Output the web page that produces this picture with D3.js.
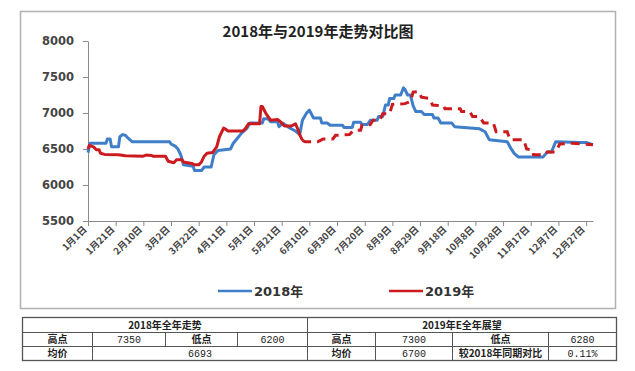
<!DOCTYPE html>
<html><head><meta charset="utf-8">
<script src="https://cdn.jsdelivr.net/npm/d3@7/dist/d3.min.js"></script>
<style>
html,body{margin:0;padding:0;background:#fff;}
svg{display:block;}
</style></head>
<body>
<svg id="c" width="635" height="371"></svg>
<script>
// ---- data ----
const title = "2018年与2019年走势对比图";
const yTicks = [5500, 6000, 6500, 7000, 7500, 8000];
const xTickDays = [0,20,40,60,80,100,120,140,160,180,200,220,240,260,280,300,320,340,360];
const xTickLabels = ["1月1日","1月21日","2月10日","3月2日","3月22日","4月11日","5月1日","5月21日","6月10日","6月30日","7月20日","8月9日","8月29日","9月18日","10月8日","10月28日","11月17日","12月7日","12月27日"];
const seriesNames = ["2018年", "2019年"];
// 2018 (blue) — day of year, price
const days2018 = [0,1.4,13,14,16,17,22,23,25,27,29,32,59,60,63,65,67,69,76,77,82,84,89,91,94,103,105,108,111,115,117,126,127,130,132,137,138,141,145,150,153,155,158,160,163,168,169,173,175,184,185,191,192,197,198,202,204,209,210,213,215,217,218,221,222,226,228,229,231,233,235,237,241,243,249,250,253,255,263,265,283,287,290,303,305,308,311,329,332,335,338,356,360,365];
const vals2018 = [6450,6580,6580,6640,6640,6530,6530,6670,6700,6690,6650,6600,6600,6570,6540,6500,6420,6280,6260,6200,6200,6250,6250,6420,6480,6500,6580,6650,6720,6790,6860,6860,6920,6920,6880,6880,6810,6860,6800,6750,6700,6900,7000,7040,6930,6930,6860,6860,6830,6830,6800,6800,6870,6870,6840,6840,6900,6900,6950,6950,7110,7110,7200,7200,7250,7250,7350,7330,7250,7250,7100,7020,7020,6980,6980,6930,6930,6860,6860,6810,6780,6740,6630,6600,6530,6440,6390,6390,6460,6460,6600,6590,6590,6560];
// 2019 (red) — actual until day 155, forecast (dashed) afterwards
const days2019 = [0,1,4,6,8,9,12,22,27,40,42,46,47,56,58,62,64,68,69,75,77,80,82,84,86,90,93,95,98,100,101,112,114,116,124,125,126,129,132,137,139,142,147,150,152,153,155,157,166,168,170,177,179,189,192,197,198,204,206,211,213,218,220,229,233,235,239,241,247,249,257,258,269,270,276,278,283,286,293,295,303,305,315,317,321,322,330,332,338,341,350,365];
const vals2019 = [6500,6550,6530,6490,6490,6440,6425,6420,6405,6400,6415,6410,6400,6400,6330,6310,6350,6350,6320,6300,6280,6280,6320,6400,6440,6450,6530,6670,6790,6770,6750,6750,6790,6850,6850,7090,7090,6980,6900,6910,6880,6820,6820,6850,6760,6700,6620,6600,6600,6620,6640,6640,6690,6700,6760,6760,6830,6840,6900,6900,6990,6990,7120,7130,7160,7290,7300,7220,7200,7110,7100,7060,7060,7020,7020,6950,6950,6860,6860,6740,6740,6630,6630,6500,6490,6420,6420,6460,6460,6570,6580,6560];
const forecastStartDay = 155;
// tables
const table2018Title = "2018年全年走势";
const table2018Row1 = ["高点","7350","低点","6200"];
const table2018Row2 = ["均价","6693"];
const table2019Title = "2019年E全年展望";
const table2019Row1 = ["高点","7300","低点","6280"];
const table2019Row2 = ["均价","6700","较2018年同期对比","0.11%"];

// ---- drawing ----
const svg = d3.select("#c");
const blue = "#3f7fc9", red = "#cc1a1f";

// frame
svg.append("rect").attr("x",20.5).attr("y",11.5).attr("width",595).attr("height",297)
  .attr("fill","#fff").attr("stroke","#b0b0b0").attr("stroke-width",1.5);

svg.append("text").attr("x",318).attr("y",37).attr("text-anchor","middle")
  .attr("font-family","'Noto Sans CJK SC', sans-serif").attr("font-weight","bold")
  .attr("font-size",15).attr("fill","#222").text(title);

const x = d3.scaleLinear().domain([0,365]).range([88,593]);
const y = d3.scaleLinear().domain([5500,8000]).range([221,41]);

const yAxis = svg.append("g").attr("transform","translate(88,0)")
  .call(d3.axisLeft(y).tickValues(yTicks).tickSize(5).tickSizeOuter(0).tickPadding(9).tickFormat(d3.format("d")));
yAxis.selectAll("path,line").attr("stroke","#8a8a8a");
yAxis.selectAll("text").attr("font-family","'DejaVu Sans', sans-serif").attr("font-weight","bold")
  .attr("font-size",11.5).attr("fill","#444");

const xAxis = svg.append("g").attr("transform","translate(0,221)")
  .call(d3.axisBottom(x).tickValues(xTickDays).tickSize(5).tickSizeOuter(0)
    .tickFormat((d,i)=>xTickLabels[i]));
xAxis.selectAll("path,line").attr("stroke","#8a8a8a");
xAxis.selectAll("text")
  .attr("font-family","'Noto Sans CJK SC', sans-serif").attr("font-weight","bold")
  .attr("font-size",9.5).attr("fill","#444")
  .attr("text-anchor","end").attr("dy",0).attr("y",0)
  .attr("transform","translate(-1,9) rotate(-45)");

// series
const pts2018 = days2018.map((d,i)=>[d, vals2018[i]]);
const pts2019 = days2019.map((d,i)=>[d, vals2019[i]]);
const line = d3.line().x(d=>x(d[0])).y(d=>y(d[1]));

svg.append("path").datum(pts2018).attr("d",line).attr("fill","none")
  .attr("stroke",blue).attr("stroke-width",3).attr("stroke-linejoin","round");

const actual = pts2019.filter(p=>p[0]<=forecastStartDay);
const forecast = pts2019.filter(p=>p[0]>=forecastStartDay);
svg.append("path").datum(actual).attr("d",line).attr("fill","none")
  .attr("stroke",red).attr("stroke-width",3).attr("stroke-linejoin","round");
svg.append("path").datum(forecast).attr("d",line).attr("fill","none")
  .attr("stroke",red).attr("stroke-width",3).attr("stroke-dasharray","9,6");

// legend
const leg = [{name:seriesNames[0], c:blue, x:218},{name:seriesNames[1], c:red, x:389}];
leg.forEach(l=>{
  svg.append("line").attr("x1",l.x).attr("x2",l.x+34).attr("y1",291).attr("y2",291)
    .attr("stroke",l.c).attr("stroke-width",2.5);
  svg.append("text").attr("x",l.x+36).attr("y",296).attr("font-family","'DejaVu Sans', 'Noto Sans CJK SC', sans-serif")
    .attr("font-weight","bold").attr("font-size",13).attr("fill","#333").text(l.name);
});

// tables
const rowsY = [317.5, 332.5, 346.5, 360.5];
const tfont = "'Noto Sans CJK SC', sans-serif";
function cell(x0,x1,r,txt,bold){
  svg.append("text").attr("x",(x0+x1)/2).attr("y",(rowsY[r]+rowsY[r+1])/2+3.5)
    .attr("text-anchor","middle").attr("font-family",bold?tfont:"'Liberation Mono', monospace")
    .attr("font-weight",bold?"bold":"normal").attr("font-size",10).attr("fill","#222").text(txt);
}
const tg = svg.append("g").attr("stroke","#555").attr("stroke-width",1).attr("fill","none");
tg.append("rect").attr("x",22.5).attr("y",rowsY[0]).attr("width",594).attr("height",rowsY[3]-rowsY[0]).attr("stroke-width",1.3);
[1,2].forEach(r=>tg.append("line").attr("x1",22.5).attr("x2",616.5).attr("y1",rowsY[r]).attr("y2",rowsY[r]));
tg.append("line").attr("x1",307.5).attr("x2",307.5).attr("y1",rowsY[0]).attr("y2",rowsY[3]);
const L = [22.5,92.5,165.5,237.5,307.5];
[1,2,3].forEach(i=>tg.append("line").attr("x1",L[i]).attr("x2",L[i]).attr("y1",rowsY[1]).attr("y2",rowsY[i===1?3:2]));
const R = [307.5,375.5,452.5,548.5,616.5];
[1,2,3].forEach(i=>tg.append("line").attr("x1",R[i]).attr("x2",R[i]).attr("y1",rowsY[1]).attr("y2",rowsY[3]));

cell(L[0],L[4],0,table2018Title,true);
cell(L[0],L[1],1,table2018Row1[0],true);
cell(L[1],L[2],1,table2018Row1[1],false);
cell(L[2],L[3],1,table2018Row1[2],true);
cell(L[3],L[4],1,table2018Row1[3],false);
cell(L[0],L[1],2,table2018Row2[0],true);
cell(L[1],L[4],2,table2018Row2[1],false);

cell(R[0],R[4],0,table2019Title,true);
cell(R[0],R[1],1,table2019Row1[0],true);
cell(R[1],R[2],1,table2019Row1[1],false);
cell(R[2],R[3],1,table2019Row1[2],true);
cell(R[3],R[4],1,table2019Row1[3],false);
cell(R[0],R[1],2,table2019Row2[0],true);
cell(R[1],R[2],2,table2019Row2[1],false);
cell(R[2],R[3],2,table2019Row2[2],true);
cell(R[3],R[4],2,table2019Row2[3],false);
</script>
</body></html>
